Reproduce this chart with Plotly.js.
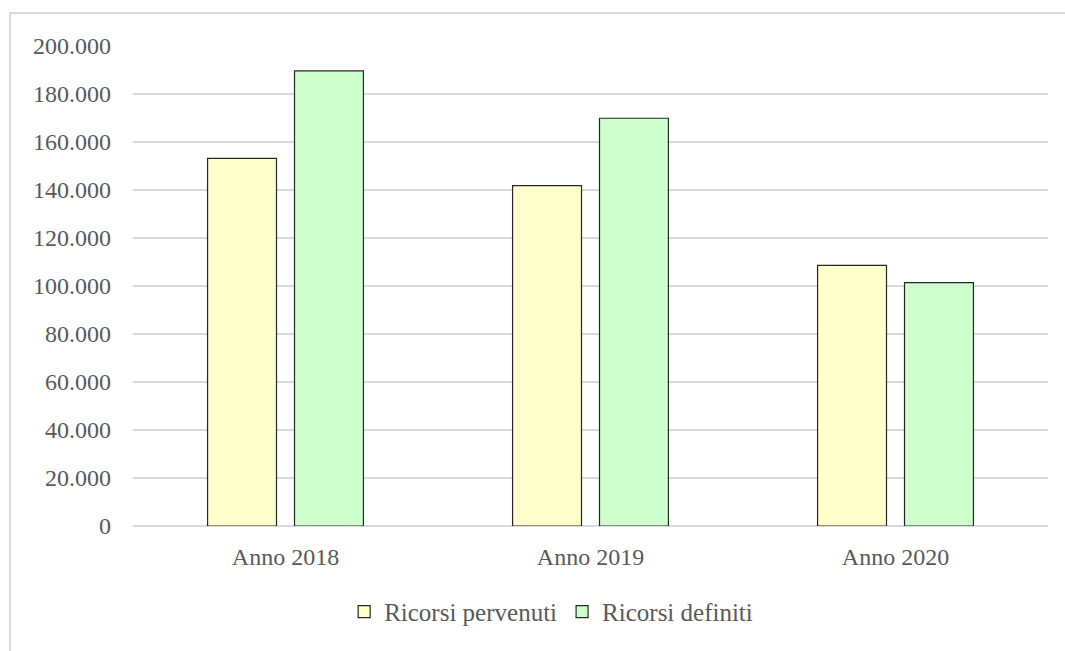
<!DOCTYPE html>
<html>
<head>
<meta charset="utf-8">
<script src="https://cdn.plot.ly/plotly-3.0.1.min.js"></script>
<style>
  html, body { margin: 0; padding: 0; background: #ffffff; }
  #wrap { position: relative; width: 1065px; height: 651px; overflow: hidden; }
  #frame { position: absolute; left: 9px; top: 12px; width: 1100px; height: 700px;
           border-left: 2px solid #d9d9d9; border-top: 2px solid #d9d9d9; }
  #chart { position: absolute; left: 0; top: 0; width: 1065px; height: 651px; }
</style>
</head>
<body>
<div id="wrap">
  <div id="frame"></div>
  <div id="chart"></div>
</div>
<script>
const categories = ["Anno 2018", "Anno 2019", "Anno 2020"];
const ricorsiPervenuti = [153200, 141800, 108600];
const ricorsiDefiniti = [189600, 169900, 101400];
const seriesNames = ["Ricorsi pervenuti", "Ricorsi definiti"];

const fontFamily = "Liberation Serif, serif";
const textColor = "#595959";

const traces = [
  {
    type: "bar", name: seriesNames[0], x: categories, y: ricorsiPervenuti,
    marker: { color: "#FFFFCC", line: { color: "#262626", width: 1.2 } },
    hoverinfo: "skip"
  },
  {
    type: "bar", name: seriesNames[1], x: categories, y: ricorsiDefiniti,
    marker: { color: "#CCFFCC", line: { color: "#262626", width: 1.2 } },
    hoverinfo: "skip"
  }
];

const layout = {
  width: 1065, height: 651,
  paper_bgcolor: "rgba(0,0,0,0)",
  plot_bgcolor: "rgba(0,0,0,0)",
  margin: { l: 133, r: 17, t: 46, b: 125 },
  separators: ",.",
  barmode: "group",
  bargap: 0.43,
  bargroupgap: 0.207,
  font: { family: fontFamily, color: textColor, size: 24 },
  xaxis: {
    type: "category",
    showgrid: false, zeroline: false, showline: false,
    ticks: "", ticklabelstandoff: 14,
    tickfont: { family: fontFamily, color: textColor, size: 24 }
  },
  yaxis: {
    range: [0, 200000], dtick: 20000, tick0: 0,
    tickformat: ",.0f",
    showgrid: true, gridcolor: "#d9d9d9", gridwidth: 1.5,
    zeroline: true, zerolinecolor: "#d9d9d9", zerolinewidth: 1.5,
    showline: false, ticks: "", ticklabelstandoff: 21,
    tickfont: { family: fontFamily, color: textColor, size: 24 }
  },
  showlegend: true,
  legend: {
    orientation: "h",
    x: 0.457, xanchor: "center",
    y: -0.179, yanchor: "middle",
    font: { family: fontFamily, color: textColor, size: 25 },
    itemwidth: 30,
    bgcolor: "rgba(0,0,0,0)"
  }
};

Plotly.newPlot("chart", traces, layout, { displayModeBar: false, staticPlot: true });
</script>
</body>
</html>
